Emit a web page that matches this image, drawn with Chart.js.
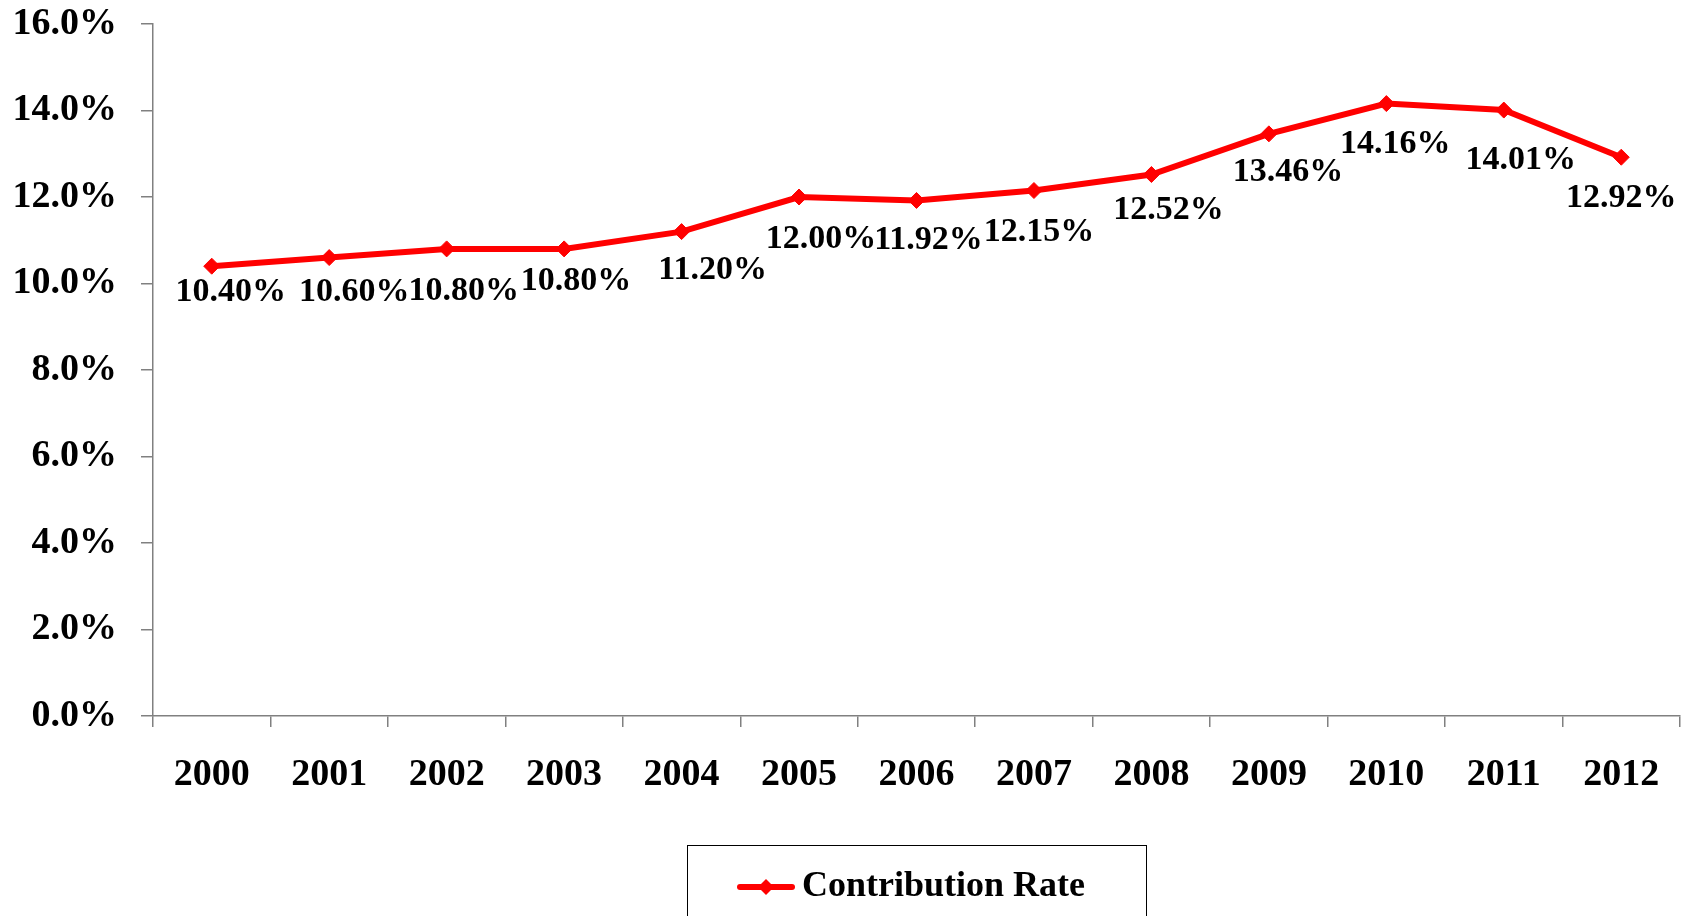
<!DOCTYPE html>
<html>
<head>
<meta charset="utf-8">
<script src="https://cdn.jsdelivr.net/npm/chart.js@4.4.1/dist/chart.umd.min.js"></script>
<style>
  html, body { margin: 0; padding: 0; background: #fff; }
  #wrap { width: 1692px; height: 916px; }
</style>
</head>
<body>
<div id="wrap"><canvas id="rateChart" width="1692" height="916"></canvas></div>
<script>
const years = ["2000", "2001", "2002", "2003", "2004", "2005", "2006", "2007", "2008", "2009", "2010", "2011", "2012"];
const contributionRate = [10.40, 10.60, 10.80, 10.80, 11.20, 12.00, 11.92, 12.15, 12.52, 13.46, 14.16, 14.01, 12.92];
const yMin = 0;
const yMax = 16;
const yStep = 2;

const RED = "#ff0000";
const AXIS_GREY = "#808080";
const FONT = "'Liberation Serif', 'Times New Roman', serif";

// legend sample: short line with a diamond in the middle
function legendSample() {
  const c = document.createElement("canvas");
  c.width = 58;
  c.height = 20;
  const g = c.getContext("2d");
  g.strokeStyle = RED;
  g.lineWidth = 6;
  g.lineCap = "round";
  g.beginPath();
  g.moveTo(3, 10);
  g.lineTo(55, 10);
  g.stroke();
  g.fillStyle = RED;
  g.beginPath();
  g.moveTo(29, 2);
  g.lineTo(37, 10);
  g.lineTo(29, 18);
  g.lineTo(21, 10);
  g.closePath();
  g.fill();
  return c;
}

// labels were placed by hand in the original, nudge each one a bit
const labelNudge = [[19, 26], [25, 35], [17, 42], [12, 32], [31, 39], [22, 42], [12, 40],
  [5, 42], [17, 36], [19, 38], [9, 41], [17, 50], [0, 41]];

const valueLabels = {
  id: "valueLabels",
  afterDatasetsDraw(chart) {
    const ctx = chart.ctx;
    const meta = chart.getDatasetMeta(0);
    ctx.save();
    ctx.font = "bold 34px " + FONT;
    ctx.fillStyle = "#000";
    ctx.textAlign = "center";
    ctx.textBaseline = "middle";
    meta.data.forEach((pt, i) => {
      const [dx, dy] = labelNudge[i] || [16, 40];
      ctx.fillText(contributionRate[i].toFixed(2) + "%", pt.x + dx, pt.y + dy);
    });
    ctx.restore();
  }
};

const legendFrame = {
  id: "legendFrame",
  afterDraw(chart) {
    const ctx = chart.ctx;
    const cx = (chart.chartArea.left + chart.chartArea.right) / 2;
    ctx.save();
    ctx.strokeStyle = "#000";
    ctx.lineWidth = 1;
    ctx.strokeRect(Math.round(cx - 229.5) + 0.5, 845.5, 459, 80);
    ctx.restore();
  }
};

new Chart(document.getElementById("rateChart").getContext("2d"), {
  type: "line",
  data: {
    labels: years,
    datasets: [{
      label: "Contribution Rate",
      data: contributionRate,
      borderColor: RED,
      backgroundColor: RED,
      borderWidth: 6,
      tension: 0,
      pointStyle: "rectRot",
      pointRadius: 8,
      pointHoverRadius: 8,
      pointBackgroundColor: RED,
      pointBorderColor: RED,
      pointBorderWidth: 1
    }]
  },
  options: {
    responsive: false,
    animation: false,
    layout: { padding: { left: 0, right: 12, top: 24, bottom: 1 } },
    scales: {
      x: {
        offset: true,
        grid: {
          offset: true,
          drawOnChartArea: false,
          tickLength: 11,
          color: AXIS_GREY,
          lineWidth: 1.5
        },
        border: { color: AXIS_GREY, width: 1.5 },
        ticks: {
          color: "#000",
          padding: 25,
          maxRotation: 0,
          font: { family: FONT, size: 38, weight: "bold" }
        },
        afterFit(scale) { scale.height = 143; }
      },
      y: {
        min: yMin,
        max: yMax,
        grid: {
          drawOnChartArea: false,
          tickLength: 12,
          color: AXIS_GREY,
          lineWidth: 1.5
        },
        border: { color: AXIS_GREY, width: 1.5 },
        ticks: {
          stepSize: yStep,
          color: "#000",
          padding: 24,
          font: { family: FONT, size: 38, weight: "bold" },
          callback: (v) => v.toFixed(1) + "%"
        },
        afterFit(scale) {
          scale.width = 153;
          scale.paddingTop = 0;
          scale.paddingBottom = 0;
        }
      }
    },
    plugins: {
      legend: {
        position: "bottom",
        fullSize: false,
        labels: {
          color: "#000",
          padding: 10,
          usePointStyle: true,
          font: { family: FONT, size: 36, weight: "bold" },
          generateLabels(chart) {
            return chart.data.datasets.map((ds, i) => ({
              text: ds.label,
              pointStyle: legendSample(),
              fillStyle: RED,
              strokeStyle: RED,
              lineWidth: 0,
              hidden: false,
              datasetIndex: i,
              fontColor: "#000"
            }));
          }
        }
      },
      tooltip: { enabled: false }
    }
  },
  plugins: [valueLabels, legendFrame]
});
</script>
</body>
</html>
